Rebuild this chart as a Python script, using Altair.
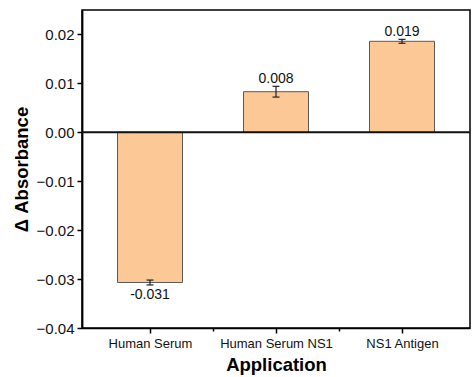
import altair as alt
import pandas as pd

categories = ["Human Serum", "Human Serum NS1", "NS1 Antigen"]
values = [-0.0307, 0.0083, 0.0186]
errors = [0.0005, 0.0011, 0.0004]
labels = ["-0.031", "0.008", "0.019"]
y_ticks = [-0.04, -0.035, -0.03, -0.025, -0.02, -0.015, -0.01, -0.005, 0.0, 0.005, 0.01, 0.015, 0.02, 0.025]
x_ticks = [1, 1.5, 2, 2.5, 3]

df = pd.DataFrame({
    "category": categories,
    "idx": list(range(1, len(categories) + 1)),
    "value": values,
    "err": errors,
    "label": labels,
})
df["lo"] = df["value"] - df["err"]
df["hi"] = df["value"] + df["err"]
df["label_y"] = [h if v >= 0 else l for v, h, l in zip(df["value"], df["hi"], df["lo"])]

label_map = "{" + ", ".join(f"'{i+1}': '{c}'" for i, c in enumerate(categories)) + "}"

xscale = alt.Scale(domain=[0.5, 3.5], nice=False, zero=False)
yscale = alt.Scale(domain=[-0.04, 0.025], nice=False, zero=False)

FONT = "Liberation Sans"

xaxis = alt.Axis(
    values=x_ticks,
    labelExpr=f"{label_map}[format(datum.value, '')] || ''",
    title="Application",
    titleFontSize=18.5, titleFontWeight="bold", titleFont=FONT, titleColor="black",
    titlePadding=5,
    labelFontSize=13, labelFont=FONT, labelColor="#111", labelPadding=4,
    tickSize={"condition": {"test": "datum.value % 1 == 0", "value": 5}, "value": 3},
    tickColor="black", tickWidth=1.5,
    domainColor="black", domainWidth=1.5, grid=False,
)
yaxis = alt.Axis(
    values=y_ticks,
    format=".2f",
    labelExpr="abs(round(datum.value*200)) % 2 == 1 ? '' : replace(datum.label, '-', '\u2212')",
    title="Δ Absorbance",
    titleFontSize=18.5, titleFontWeight="bold", titleFont=FONT, titleColor="black",
    titlePadding=5,
    labelFontSize=15, labelFont=FONT, labelColor="#111", labelPadding=3,
    tickSize={"condition": {"test": "abs(round(datum.value*200)) % 2 == 0", "value": 5}, "value": 3},
    tickColor="black", tickWidth=1.5,
    domainColor="black", domainWidth=1.8, grid=False,
)

base = alt.Chart(df)

bars = base.mark_bar(size=65, orient="vertical", fill="#FCC896", stroke="#5a5a5a", strokeWidth=1).encode(
    x=alt.X("idx:Q", scale=xscale, axis=xaxis),
    y=alt.Y("value:Q", scale=yscale, axis=yaxis),
    y2=alt.datum(0),
)

zero = alt.Chart(pd.DataFrame({"z": [0.0]})).mark_rule(color="#111", strokeWidth=2).encode(
    y=alt.Y("z:Q", scale=yscale),
)

err_rule = base.mark_rule(color="#222", strokeWidth=1.2).encode(
    x=alt.X("idx:Q", scale=xscale),
    y=alt.Y("lo:Q", scale=yscale),
    y2="hi:Q",
)
cap_hi = base.mark_rule(color="#222", strokeWidth=1.2, xOffset=-3.5, x2Offset=3.5).encode(
    x=alt.X("idx:Q", scale=xscale), x2="idx:Q",
    y=alt.Y("hi:Q", scale=yscale),
)
cap_lo = base.mark_rule(color="#222", strokeWidth=1.2, xOffset=-3.5, x2Offset=3.5).encode(
    x=alt.X("idx:Q", scale=xscale), x2="idx:Q",
    y=alt.Y("lo:Q", scale=yscale),
)

text_pos = base.transform_filter("datum.value >= 0").mark_text(
    font=FONT, fontSize=14, color="#111", baseline="alphabetic", dy=-3
).encode(
    x=alt.X("idx:Q", scale=xscale),
    y=alt.Y("label_y:Q", scale=yscale),
    text="label:N",
)
text_neg = base.transform_filter("datum.value < 0").mark_text(
    font=FONT, fontSize=14, color="#111", baseline="top", dy=3
).encode(
    x=alt.X("idx:Q", scale=xscale),
    y=alt.Y("label_y:Q", scale=yscale),
    text="label:N",
)

chart = alt.layer(bars, zero, err_rule, cap_hi, cap_lo, text_pos, text_neg).properties(
    width=388, height=318,
    autosize=alt.AutoSizeParams(type="none"),
    padding={"left": 82, "top": 10, "right": 2, "bottom": 49},
    background="white",
).configure_view(stroke="black", strokeWidth=1.5)

chart.save("out.html", embed_options={"renderer": "svg", "actions": False})
